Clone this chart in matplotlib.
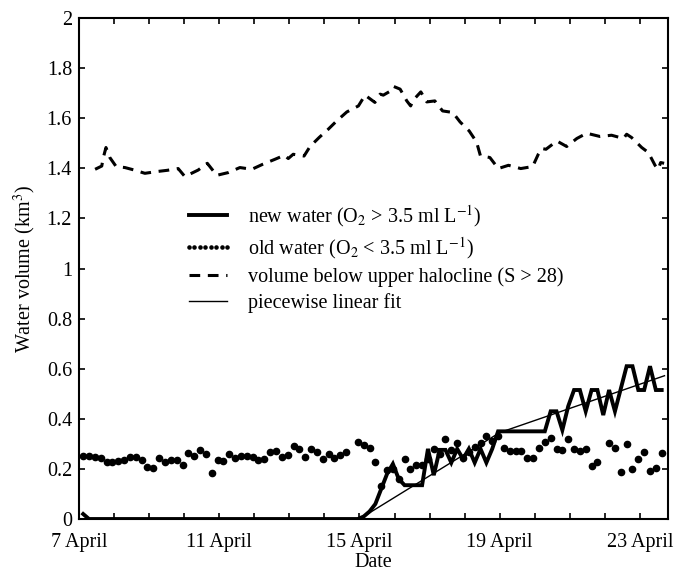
import numpy as np
import matplotlib
matplotlib.use('Agg')
import matplotlib.pyplot as plt

plt.rcParams['font.family'] = ['Liberation Serif', 'DejaVu Serif']
plt.rcParams['mathtext.fontset'] = 'stix'

# sampling every 4 hours, time in days since 7 April 00:00
t = 0.12 + np.arange(100) / 6.0

old_water = [0.251, 0.251, 0.248, 0.245, 0.228, 0.229, 0.231, 0.237, 0.248, 0.248,
             0.235, 0.207, 0.204, 0.244, 0.229, 0.237, 0.235, 0.216, 0.264, 0.252,
             0.277, 0.259, 0.184, 0.235, 0.232, 0.261, 0.243, 0.251, 0.251, 0.249,
             0.237, 0.239, 0.267, 0.271, 0.247, 0.257, 0.291, 0.280, 0.247, 0.280,
             0.269, 0.240, 0.260, 0.243, 0.257, 0.269, np.nan, 0.306, 0.294, 0.283,
             0.229, 0.132, 0.197, 0.200, 0.160, 0.241, 0.199, 0.215, 0.216, 0.240,
             0.280, 0.259, 0.320, 0.274, 0.304, 0.245, 0.269, 0.288, 0.305, 0.333,
             0.310, 0.333, 0.285, 0.272, 0.272, 0.272, 0.243, 0.243, 0.283, 0.309,
             0.323, 0.279, 0.276, 0.319, 0.280, 0.273, 0.281, 0.212, 0.229, np.nan,
             0.305, 0.283, 0.187, 0.299, 0.199, 0.239, 0.269, 0.192, 0.205, 0.263]

new_water = [0.02] + [0.0] * 47 + [
             0.01, 0.03, 0.06, 0.12, 0.18, 0.22, 0.16, 0.135, 0.135, 0.135,
             0.135, 0.28, 0.175, 0.276, 0.276, 0.225, 0.28, 0.24, 0.28, 0.225,
             0.28, 0.225, 0.28, 0.35, 0.35, 0.35, 0.35, 0.35, 0.35, 0.35,
             0.35, 0.35, 0.43, 0.43, 0.355, 0.45, 0.515, 0.515, 0.43, 0.515,
             0.515, 0.415, 0.515, 0.43, 0.52, 0.61, 0.61, 0.515, 0.515, 0.61,
             0.515, 0.515]

halo_t = [0.46, 0.65, 0.69, 0.77, 0.88, 1.06, 1.31, 1.58, 1.88, 2.22, 2.52, 2.83,
          3.02, 3.40, 3.66, 3.93, 4.26, 4.59, 4.93, 5.24, 5.59, 5.86, 5.97, 6.11,
          6.42, 6.59, 6.85, 7.11, 7.35, 7.64, 7.97, 8.16, 8.44, 8.59, 8.68, 8.89,
          8.97, 9.16, 9.35, 9.46, 9.54, 9.75, 9.92, 10.15, 10.37, 10.66, 10.87,
          11.13, 11.34, 11.45, 11.72, 11.96, 12.25, 12.60, 12.94, 13.10, 13.20,
          13.32, 13.63, 13.91, 14.20, 14.48, 14.86, 15.19, 15.53, 15.62, 15.76,
          16.05, 16.24, 16.43, 16.52, 16.59, 16.69]
halo_v = [1.396, 1.409, 1.44, 1.483, 1.443, 1.407, 1.403, 1.393, 1.38, 1.387,
          1.392, 1.399, 1.367, 1.393, 1.42, 1.372, 1.383, 1.403, 1.396, 1.416,
          1.436, 1.452, 1.439, 1.456, 1.449, 1.487, 1.523, 1.556, 1.589, 1.625,
          1.649, 1.692, 1.663, 1.696, 1.692, 1.709, 1.727, 1.716, 1.669, 1.649,
          1.673, 1.705, 1.665, 1.669, 1.629, 1.623, 1.585, 1.549, 1.505, 1.45,
          1.443, 1.399, 1.412, 1.399, 1.407, 1.456, 1.479, 1.476, 1.509, 1.487,
          1.519, 1.54, 1.527, 1.532, 1.519, 1.536, 1.523, 1.483, 1.463, 1.412,
          1.396, 1.423, 1.42]

fit_t = [8.0, 12.0, 16.7]
fit_v = [0.0, 0.345, 0.572]

day_labels = ['7 April', '11 April', '15 April', '19 April', '23 April']
y_labels = ['0', '0.2', '0.4', '0.6', '0.8', '1', '1.2', '1.4', '1.6', '1.8', '2']

fig = plt.figure(figsize=(6.79, 5.73), dpi=100)
ax = fig.add_axes([0.1163, 0.0942, 0.8675, 0.8744])

ax.plot(t, new_water, 'k-', linewidth=2.8, solid_joinstyle='miter',
        label=r'new water (O$_2$ > 3.5 ml L$^{-1}$)')
ax.plot(t, old_water, 'ko', markersize=4.5, linestyle='none',
        label=r'old water (O$_2$ < 3.5 ml L$^{-1}$)')
ax.plot(halo_t, halo_v, 'k', linewidth=2.2, dashes=(3.5, 2.5),
        label='volume below upper halocline (S > 28)')
ax.plot(fit_t, fit_v, 'k-', linewidth=1.0, label='piecewise linear fit')

ax.set_xlim(0, 16.8)
ax.set_ylim(0, 2)
ax.set_xticks(np.arange(0, 17, 1))
ax.set_xticklabels([day_labels[i // 4] if i % 4 == 0 else '' for i in range(17)])
ax.set_yticks(np.arange(0, 2.01, 0.2))
ax.set_yticklabels(y_labels)
ax.tick_params(direction='in', length=4.5, width=1.2, top=True, right=True,
               labelsize=14.5)
ax.tick_params(axis='x', pad=10)
ax.tick_params(axis='y', pad=5)
for s in ax.spines.values():
    s.set_linewidth(1.5)

ax.set_xlabel('Date', fontsize=14.5, labelpad=1)
ax.set_ylabel('Water volume (km$^3$)', fontsize=14.5, labelpad=6)

ax.legend(loc='upper left', bbox_to_anchor=(0.1766, 0.63), frameon=False,
          fontsize=14.5, numpoints=8, markerscale=0.5, handlelength=2.5,
          handletextpad=0.75, labelspacing=0.3, borderpad=0, borderaxespad=0)

fig.savefig('out.png', dpi=100)
